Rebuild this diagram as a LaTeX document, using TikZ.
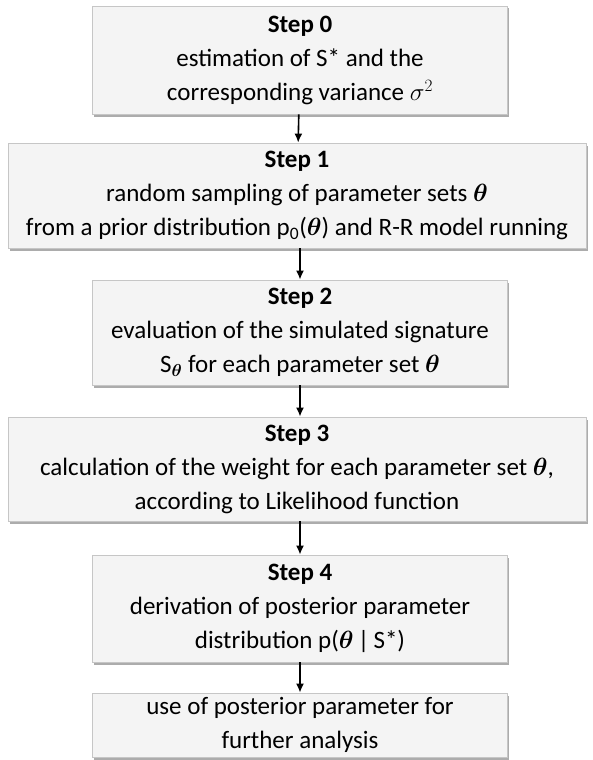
\documentclass[tikz,border=0pt]{standalone}
\usepackage{amsmath}
\usepackage{fontspec}
\setmainfont{Carlito}
\usetikzlibrary{arrows.meta,shadows}

\begin{document}
\begin{tikzpicture}[x=1pt,y=-1pt,
  stepbox/.style={draw=gray!45, fill=gray!9, line width=0.8pt,
    minimum width=415pt, align=center, inner sep=1pt,
    font=\fontsize{25}{34}\selectfont,
    drop shadow={shadow xshift=1.5pt, shadow yshift=-2.5pt, fill=gray!65, opacity=1}},
  widebox/.style={stepbox, minimum width=578pt},
  flow/.style={-{Latex[length=9pt,width=8pt]}, line width=1.6pt}]
  \useasboundingbox (0,0) rectangle (592,760);
  % Steps
  \node[stepbox, minimum height=108pt] (s0) at (300,60)
    {\textbf{Step 0}\\ estimation of S* and the\\ corresponding variance $\sigma^2$};
  \node[widebox, minimum height=105pt] (s1) at (297,195.5)
    {\textbf{Step 1}\\ random sampling of parameter sets $\boldsymbol{\theta}$\\
     from a prior distribution p\textsubscript{0}($\boldsymbol{\theta}$) and R-R model running};
  \node[stepbox, minimum height=105pt] (s2) at (300,332.5)
    {\textbf{Step 2}\\ evaluation of the simulated signature\\
     S$_{\boldsymbol{\theta}}$ for each parameter set $\boldsymbol{\theta}$};
  \node[widebox, minimum height=104pt] (s3) at (297,469)
    {\textbf{Step 3}\\ calculation of the weight for each parameter set $\boldsymbol{\theta}$,\\
     according to Likelihood function};
  \node[stepbox, minimum height=107pt] (s4) at (300,608.5)
    {\textbf{Step 4}\\ derivation of posterior parameter\\
     distribution p($\boldsymbol{\theta}$\,|\,S*)};
  \node[stepbox, minimum height=64pt] (s5) at (300,725)
    {use of posterior parameter for\\ further analysis};
  % Arrows
  \draw[flow] (s0) -- (s1);
  \draw[flow] (s1.south -| s2) -- (s2);
  \draw[flow] (s2) -- (s3.north -| s2);
  \draw[flow] (s3.south -| s4) -- (s4);
  \draw[flow] (s4) -- (s5);
\end{tikzpicture}
\end{document}
